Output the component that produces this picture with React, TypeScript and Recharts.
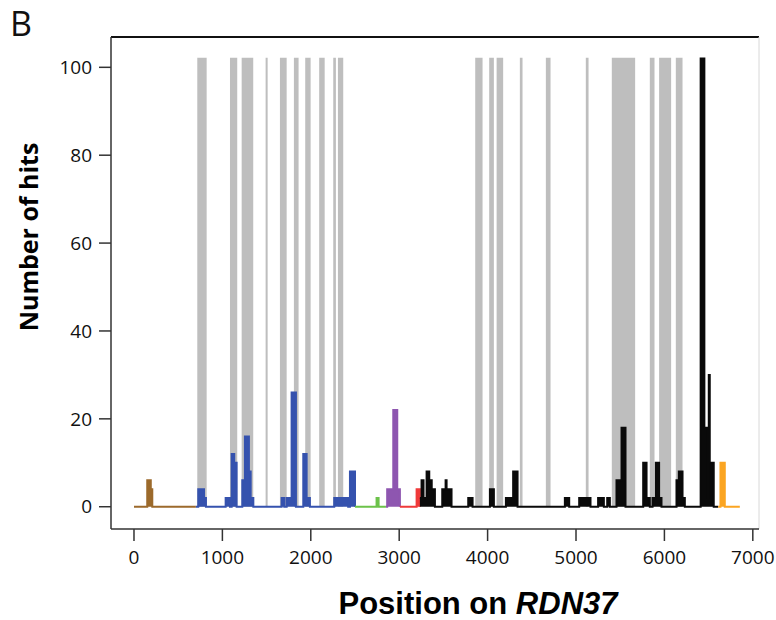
import {
  ComposedChart,
  Area,
  XAxis,
  YAxis,
  ReferenceArea,
  ReferenceLine,
} from "recharts"

// step profiles along the rRNA: [position, hits] pairs, each value holds until the next position
const brownSteps = [[0, 0], [150, 6], [190, 4], [207, 0], [700, 0]]
const blueSteps = [
  [700, 0], [727, 4], [792, 2], [814, 0], [1037, 2], [1086, 0], [1105, 12], [1134, 10],
  [1161, 0], [1225, 6], [1255, 16], [1300, 8], [1320, 2], [1350, 0], [1670, 2], [1700, 0],
  [1727, 2], [1783, 26], [1832, 0], [1915, 12], [1953, 2], [1990, 0], [2265, 2], [2423, 0],
  [2443, 8], [2500, 0],
]
const greenSteps = [[2500, 0], [2744, 2], [2767, 0], [2850, 0]]
const purpleSteps = [[2850, 0], [2864, 4], [2933, 22], [2978, 4], [3008, 0]]
const redSteps = [[3008, 0], [3197, 4], [3234, 0]]
const blackSteps = [
  [3234, 2], [3253, 6], [3275, 2], [3310, 8], [3340, 6], [3368, 4], [3404, 0], [3487, 4],
  [3525, 6], [3536, 4], [3592, 0], [3781, 2], [3830, 0], [4026, 4], [4071, 0], [4207, 2],
  [4289, 8], [4339, 0], [4874, 2], [4923, 0], [5036, 2], [5164, 0], [5250, 2], [5315, 0],
  [5353, 2], [5383, 0], [5458, 6], [5515, 18], [5560, 0], [5760, 10], [5798, 2], [5835, 0],
  [5866, 2], [5903, 10], [5940, 2], [5967, 0], [6137, 6], [6163, 8], [6205, 2], [6231, 0],
  [6410, 102], [6452, 18], [6490, 2], [6502, 30], [6513, 10], [6558, 0], [6608, 0],
]
const orangeSteps = [[6608, 0], [6634, 10], [6683, 0], [6853, 0]]

// shaded regions (grey bands)
const greyBands = [
  [716, 822], [1086, 1168], [1218, 1349], [1489, 1512], [1651, 1727], [1809, 1862],
  [1937, 1998], [2095, 2157], [2254, 2284], [2307, 2367], [3860, 3943], [4018, 4071],
  [4102, 4176], [4365, 4395], [4659, 4712], [5111, 5142], [5405, 5669], [5835, 5888],
  [5940, 6076], [6129, 6205],
]
const bandTop = 102.2

const xTicks = [0, 1000, 2000, 3000, 4000, 5000, 6000, 7000]
const yTicks = [0, 20, 40, 60, 80, 100]

const segments = [
  { key: "brown", steps: brownSteps, color: "#9C6A2C" },
  { key: "blue", steps: blueSteps, color: "#3552AE" },
  { key: "green", steps: greenSteps, color: "#6CC24A" },
  { key: "purple", steps: purpleSteps, color: "#8E56B0" },
  { key: "red", steps: redSteps, color: "#F03A3A" },
  { key: "black", steps: blackSteps, color: "#0A0A0A" },
  { key: "orange", steps: orangeSteps, color: "#FBA522" },
]

const X_DOMAIN = [-260, 7070]
const Y_DOMAIN = [-5.07, 106.9]

const tickFont = { fontSize: 19, fill: "#111", fontFamily: "'Open Sans', sans-serif" }

export default function App() {
  return (
    <div style={{ position: "absolute", left: 0, top: 0, width: 776, height: 620, background: "#fff" }}>
      <div
        style={{
          position: "absolute",
          left: 10,
          top: 0,
          fontSize: 34,
          fontFamily: "'Open Sans', sans-serif",
          color: "#111",
        }}
      >
        B
      </div>
      <ComposedChart
        width={776}
        height={620}
        margin={{ top: 37, right: 17, left: 51, bottom: 51 }}
      >
        <XAxis
          type="number"
          dataKey="x"
          domain={X_DOMAIN}
          ticks={xTicks}
          allowDataOverflow
          height={40}
          tick={tickFont}
          tickSize={12}
          tickMargin={10}
          tickLine={{ stroke: "#333", strokeWidth: 1.5 }}
          axisLine={{ stroke: "#333", strokeWidth: 1.5 }}
          label={{
            content: () => (
              <text
                x={478}
                y={614}
                textAnchor="middle"
                fontSize={31}
                fontWeight="bold"
                fontFamily="'Liberation Sans', Arial, sans-serif"
                fill="#000"
              >
                <tspan>Position on </tspan>
                <tspan fontStyle="italic">RDN37</tspan>
              </text>
            ),
          }}
        />
        <YAxis
          type="number"
          domain={Y_DOMAIN}
          ticks={yTicks}
          allowDataOverflow
          width={60}
          tick={tickFont}
          tickSize={12}
          tickMargin={7}
          tickLine={{ stroke: "#333", strokeWidth: 1.5 }}
          axisLine={{ stroke: "#333", strokeWidth: 1.5 }}
          label={{
            content: () => (
              <text
                x={28}
                y={237}
                transform="rotate(-90, 28, 237)"
                textAnchor="middle"
                dominantBaseline="central"
                fontSize={25}
                fontWeight="bold"
                fontFamily="'Open Sans', sans-serif"
                fill="#000"
              >
                Number of hits
              </text>
            ),
          }}
        />
        <ReferenceLine y={Y_DOMAIN[1]} stroke="#111" strokeWidth={2} ifOverflow="visible" />
        <ReferenceLine x={X_DOMAIN[1]} stroke="#d8d8d8" strokeWidth={1} ifOverflow="visible" />
        {greyBands.map(([a, b], i) => (
          <ReferenceArea
            key={`band-${i}`}
            x1={a}
            x2={b}
            y1={0}
            y2={bandTop}
            fill="#BEBEBE"
            fillOpacity={1}
            stroke="none"
          />
        ))}
        {segments.map((s) => (
          <Area
            key={s.key}
            data={s.steps.map(([x, y]) => ({ x, y }))}
            dataKey="y"
            type="stepAfter"
            baseValue={0}
            stroke={s.color}
            strokeWidth={2}
            fill={s.color}
            fillOpacity={1}
            dot={false}
            activeDot={false}
            isAnimationActive={false}
          />
        ))}
      </ComposedChart>
    </div>
  )
}
